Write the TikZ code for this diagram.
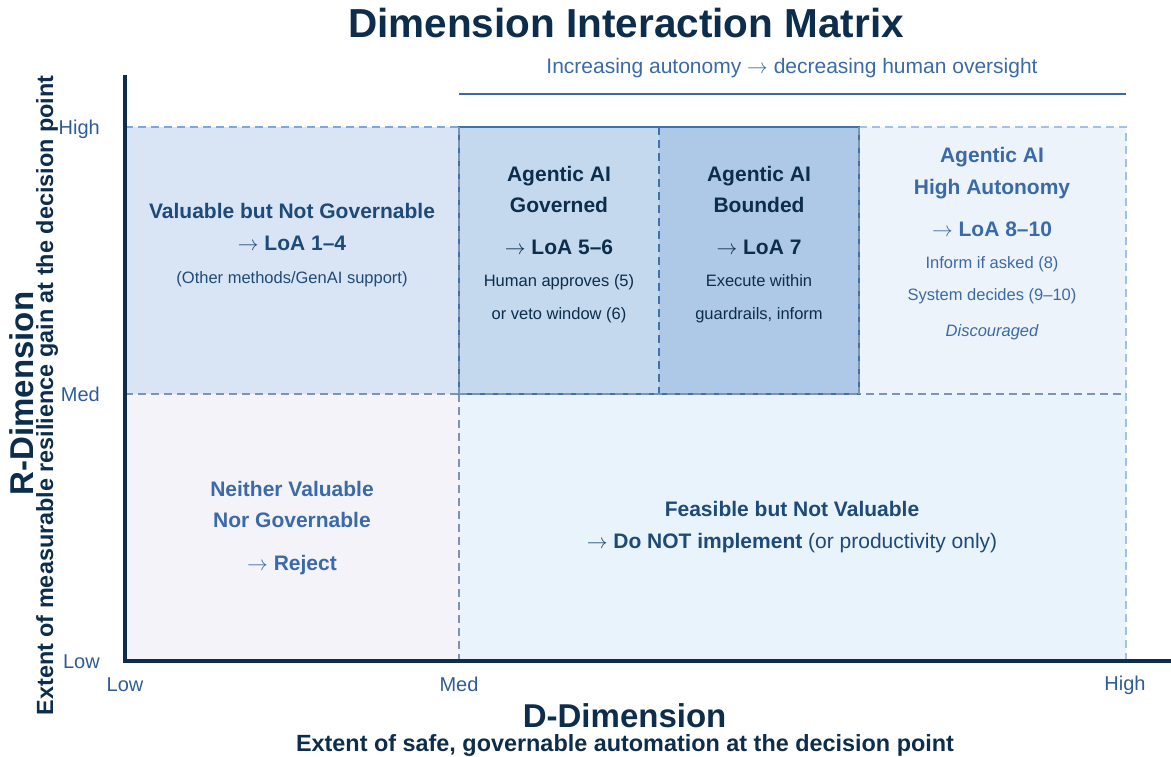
\documentclass[tikz,border=0pt]{standalone}
\usepackage{fontspec}
\setmainfont{Liberation Sans}

\definecolor{navy}{HTML}{0C2D4B}
\definecolor{deepblue}{HTML}{1E4A79}
\definecolor{midblue}{HTML}{3A6AA8}
\definecolor{tickblue}{HTML}{2E5D96}
\definecolor{rulecol}{HTML}{3B69A6}
\definecolor{boxline}{HTML}{4470A8}
\definecolor{dashlight}{HTML}{7DA7DD}
\definecolor{dashpale}{HTML}{A2C1E8}
\definecolor{dashgrey}{HTML}{7C93B1}
\definecolor{fillTL}{HTML}{D9E5F5}
\definecolor{fillGov}{HTML}{C4D8EE}
\definecolor{fillBnd}{HTML}{AEC9E7}
\definecolor{fillHigh}{HTML}{EDF3FB}
\definecolor{fillBL}{HTML}{F3F3F9}
\definecolor{fillBR}{HTML}{E8F3FB}

\tikzset{
  hdr/.style={font=\fontsize{21}{25}\selectfont\bfseries, anchor=base, inner sep=0pt},
  subline/.style={font=\fontsize{16.5}{20}\selectfont, anchor=base, inner sep=0pt},
  ticklbl/.style={font=\fontsize{20}{24}\selectfont, text=tickblue, inner sep=0pt},
  griddash/.style={dash pattern=on 8pt off 5pt, line width=1.5pt},
  axisline/.style={draw=navy, line width=3.5pt},
}

\begin{document}
\begin{tikzpicture}[x=1pt, y=-1pt]
\useasboundingbox (0,0) rectangle (1171,756);

% grid corners
\coordinate (LL) at (125,661);
\coordinate (LM) at (125,394);
\coordinate (LH) at (125,127);
\coordinate (MM) at (459,394);
\coordinate (MH) at (459,127);
\coordinate (ML) at (459,661);
\coordinate (GH) at (659,127);
\coordinate (GM) at (659,394);
\coordinate (BH) at (859,127);
\coordinate (BM) at (859,394);
\coordinate (HH) at (1126,127);
\coordinate (HM) at (1126,394);
\coordinate (HL) at (1126,661);

% cell fills
\fill[fillTL]   (LH) rectangle (MM);
\fill[fillGov]  (MH) rectangle (GM);
\fill[fillBnd]  (GH) rectangle (BM);
\fill[fillHigh] (BH) rectangle (HM);
\fill[fillBL]   (LM) rectangle (ML);
\fill[fillBR]   (MM) rectangle (HL);

% dashed grid
\draw[griddash, dashlight] (LH) -- (MH);
\draw[griddash, dashpale] (BH) -- (HH) -- (HL);
\draw[griddash, dashgrey] (LM) -- (HM);
\draw[griddash, dashgrey] (MM) -- (ML);

% outlined agentic cells
\draw[boxline, line width=2pt] (MH) rectangle (BM);
\draw[griddash, boxline, line width=1.6pt] (GH) -- (GM);
\draw[griddash, dashgrey, line width=1.2pt] (MH) -- (MM);
\draw[griddash, dashgrey, line width=1.4pt] (BH) -- (BM);
\draw[griddash, dashgrey, line width=1.4pt] (MM) -- (BM);

% axes
\draw[axisline] (125,75) -- (LL) -- (1171,661);

% title and autonomy bracket
\node[anchor=base, inner sep=0pt, text=navy, font=\fontsize{40.5}{46}\selectfont\bfseries]
  (title) at (626,37) {Dimension Interaction Matrix};
\node[anchor=base, inner sep=0pt, text=midblue, font=\fontsize{21}{25}\selectfont]
  (autonomy) at (792,73) {Increasing autonomy $\rightarrow$ decreasing human oversight};
\coordinate (ruleL) at (459,94);
\coordinate (ruleR) at (1126,94);
\draw[rulecol, line width=2.5pt] (ruleL) -- (ruleR);

% top-left cell
\node[hdr, text=deepblue] (tl1) at (292,218) {Valuable but Not Governable};
\node[hdr, text=deepblue] (tl2) at (292,250.7) {$\rightarrow$ LoA 1–4};
\node[subline, text=deepblue] (tl3) at (292,283) {(Other methods/GenAI support)};

% governed cell
\node[hdr, text=navy] (g1) at (559,181) {Agentic AI};
\node[hdr, text=navy] (g2) at (559,212.7) {Governed};
\node[hdr, text=navy] (g3) at (559,254.3) {$\rightarrow$ LoA 5–6};
\node[subline, text=navy] (g4) at (559,286.7) {Human approves (5)};
\node[subline, text=navy] (g5) at (559,319) {or veto window (6)};

% bounded cell
\node[hdr, text=navy] (b1) at (759,181) {Agentic AI};
\node[hdr, text=navy] (b2) at (759,212.7) {Bounded};
\node[hdr, text=navy] (b3) at (759,254.3) {$\rightarrow$ LoA 7};
\node[subline, text=navy] (b4) at (759,286.7) {Execute within};
\node[subline, text=navy] (b5) at (759,319) {guardrails, inform};

% high autonomy cell
\node[hdr, text=midblue] (h1) at (992,162.3) {Agentic AI};
\node[hdr, text=midblue] (h2) at (992,194) {High Autonomy};
\node[hdr, text=midblue] (h3) at (992,236.7) {$\rightarrow$ LoA 8–10};
\node[subline, text=midblue] (h4) at (992,268.3) {Inform if asked (8)};
\node[subline, text=midblue] (h5) at (992,300.7) {System decides (9–10)};
\node[subline, text=midblue, font=\fontsize{16.5}{20}\selectfont\itshape] (h6) at (992,336.7) {Discouraged};

% bottom-left cell
\node[hdr, text=midblue] (n1) at (292,496.7) {Neither Valuable};
\node[hdr, text=midblue] (n2) at (292,527.7) {Nor Governable};
\node[hdr, text=midblue] (n3) at (292,570.7) {$\rightarrow$ Reject};

% bottom-right cell
\node[hdr, text=deepblue] (f1) at (792,516) {Feasible but Not Valuable};
\node[hdr, text=deepblue] (f2) at (792,548.3) {$\rightarrow$ Do NOT implement \mdseries(or productivity only)};

% tick labels
\node[ticklbl, anchor=base east] (yHigh) at (100,134) {High};
\node[ticklbl, anchor=base east] (yMed)  at (100,401) {Med};
\node[ticklbl, anchor=base east] (yLow)  at (100,668) {Low};
\node[ticklbl, anchor=base] (xLow)  at (125,691.5) {Low};
\node[ticklbl, anchor=base] (xMed)  at (459,691.5) {Med};
\node[ticklbl, anchor=base] (xHigh) at (1125,690.5) {High};

% axis titles
\node[anchor=base, inner sep=0pt, text=navy, font=\fontsize{33}{38}\selectfont\bfseries]
  (dtitle) at (624.6,727) {D-Dimension};
\node[anchor=base, inner sep=0pt, text=navy, font=\fontsize{23.4}{27}\selectfont\bfseries]
  (dsub) at (625,751) {Extent of safe, governable automation at the decision point};
\node[rotate=90, anchor=base, inner sep=0pt, text=navy, font=\fontsize{33}{38}\selectfont\bfseries]
  (rtitle) at (34,393.5) {R-Dimension};
\node[rotate=90, anchor=base, inner sep=0pt, text=navy, font=\fontsize{23.4}{27}\selectfont\bfseries]
  (rsub) at (53,395.5) {Extent of measurable resilience gain at the decision point};
\end{tikzpicture}
\end{document}
